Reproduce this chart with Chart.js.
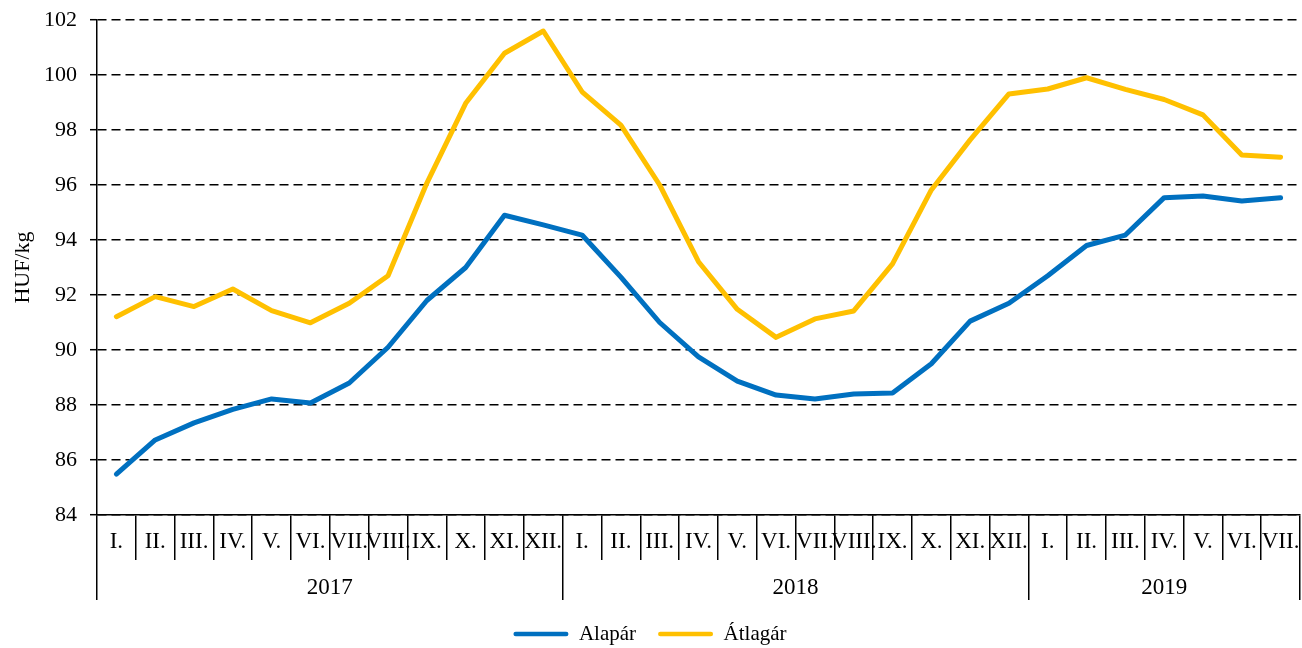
<!DOCTYPE html>
<html>
<head>
<meta charset="utf-8">
<script src="https://cdn.jsdelivr.net/npm/chart.js@4"></script>
<style>
  html, body { margin: 0; padding: 0; background: #ffffff; }
  #wrap { width: 1302px; height: 648px; position: relative; }
</style>
</head>
<body>
<div id="wrap"><canvas id="c" width="1302" height="648"></canvas></div>
<script>
const monthLabels = ['I.','II.','III.','IV.','V.','VI.','VII.','VIII.','IX.','X.','XI.','XII.',
                     'I.','II.','III.','IV.','V.','VI.','VII.','VIII.','IX.','X.','XI.','XII.',
                     'I.','II.','III.','IV.','V.','VI.','VII.'];
const yearLabels = ['2017', '2018', '2019'];
const yearMonthCounts = [12, 12, 7];
const alapar = [85.49, 86.73, 87.35, 87.84, 88.22, 88.07, 88.8, 90.1, 91.8, 93.0, 94.9, 94.55,
                94.18, 92.65, 91.0, 89.75, 88.87, 88.36, 88.22, 88.4, 88.44, 89.5, 91.05, 91.7,
                92.7, 93.8, 94.18, 95.54, 95.6, 95.42, 95.54];
const atlagar = [91.21, 91.94, 91.58, 92.22, 91.43, 90.99, 91.7, 92.7, 96.07, 98.97, 100.79, 101.6,
                 99.39, 98.18, 96.0, 93.21, 91.48, 90.46, 91.13, 91.42, 93.13, 95.82, 97.64, 99.31,
                 99.49, 99.9, 99.48, 99.11, 98.55, 97.09, 97.01];
const seriesNames = ['Alapár', 'Átlagár'];
const yTicks = { min: 84, max: 102, step: 2 };
const axisTitle = 'HUF/kg';

const FONT = 'Liberation Serif';

// year group boundaries and centers (in category index units)
const yearBounds = [-0.5];
const yearCenters = [];
{
  let start = 0;
  yearMonthCounts.forEach(n => {
    yearCenters.push(start + (n - 1) / 2);
    start += n;
    yearBounds.push(start - 0.5);
  });
}
const isBound = v => yearBounds.some(b => Math.abs(b - v) < 1e-6);

new Chart(document.getElementById('c'), {
  type: 'line',
  data: {
    labels: monthLabels,
    datasets: [
      { label: seriesNames[0], data: alapar, borderColor: '#0070C0', backgroundColor: '#0070C0',
        borderWidth: 5, pointRadius: 0, tension: 0, borderCapStyle: 'round', borderJoinStyle: 'round', xAxisID: 'x' },
      { label: seriesNames[1], data: atlagar, borderColor: '#FFC000', backgroundColor: '#FFC000',
        borderWidth: 5, pointRadius: 0, tension: 0, borderCapStyle: 'round', borderJoinStyle: 'round', xAxisID: 'x' }
    ]
  },
  options: {
    responsive: false,
    animation: false,
    layout: { padding: { top: 20, right: 2, left: 0, bottom: -6.5 } },
    plugins: {
      tooltip: { enabled: false },
      legend: {
        position: 'bottom',
        labels: {
          color: '#000',
          font: { family: FONT, size: 21 },
          boxWidth: 55,
          boxHeight: 4.5,
          padding: 22,
          useBorderRadius: true,
          borderRadius: 2.25,
          generateLabels(chart) {
            const items = Chart.defaults.plugins.legend.labels.generateLabels(chart);
            items.forEach(it => { it.lineWidth = 0; });
            return items;
          }
        }
      }
    },
    scales: {
      y: {
        min: yTicks.min, max: yTicks.max,
        ticks: { stepSize: yTicks.step, color: '#000', font: { family: FONT, size: 22 }, padding: 13 },
        grid: { color: '#000', lineWidth: 1.4, tickLength: 7, tickColor: '#000', tickWidth: 1.5, tickBorderDash: [] },
        border: { display: true, color: '#000', width: 1.5, dash: [9, 5] },
        title: { display: true, text: axisTitle, color: '#000', font: { family: FONT, size: 22 }, padding: { top: 10, bottom: 0 } },
        afterFit(scale) { scale.width = 97; scale.paddingTop = 0; scale.paddingBottom = 0; }
      },
      x: {
        type: 'category',
        position: 'bottom',
        offset: true,
        ticks: { color: '#000', font: { family: FONT, size: 23 }, padding: -31.5, autoSkip: false, maxRotation: 0, minRotation: 0 },
        grid: { offset: true, drawOnChartArea: false, drawTicks: true, tickLength: 45, color: '#000', lineWidth: 1.5 },
        border: { display: true, color: '#000', width: 1.5 },
        afterFit(scale) { scale.height = 45; }
      },
      x2: {
        type: 'linear',
        position: 'bottom',
        min: -0.5, max: 30.5,
        afterBuildTicks(scale) {
          const vals = yearBounds.concat(yearCenters).sort((a, b) => a - b);
          scale.ticks = vals.map(v => ({ value: v }));
        },
        ticks: {
          color: '#000', font: { family: FONT, size: 23 }, padding: -25.5, autoSkip: false, maxRotation: 0, minRotation: 0,
          callback(value) {
            const i = yearCenters.findIndex(c => Math.abs(c - value) < 1e-6);
            return i >= 0 ? yearLabels[i] : '';
          }
        },
        grid: {
          drawOnChartArea: false, drawTicks: true, tickLength: 40, lineWidth: 1.5,
          color: ctx => (ctx.tick && isBound(ctx.tick.value)) ? '#000' : 'rgba(0,0,0,0)'
        },
        border: { display: false },
        afterFit(scale) { scale.height = 41.5; }
      }
    }
  }
});
</script>
</body>
</html>
